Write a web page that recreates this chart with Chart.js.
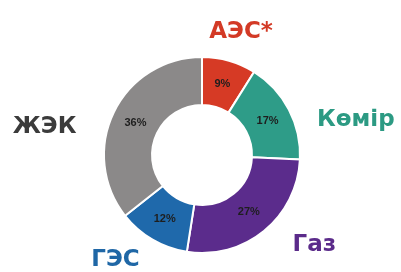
<!DOCTYPE html>
<html>
<head>
    <meta charset="utf-8" />
    <title>Energy mix</title>
    <script src="https://cdn.jsdelivr.net/npm/chart.js"></script>
    <style>
        html, body { margin: 0; padding: 0; background: #fff; }
        #wrap { width: 401px; height: 272px; }
    </style>
</head>
<body>
    <div id="wrap">
        <canvas id="mixChart" width="401" height="272"></canvas>
    </div>

    <script>
        // data
        const labels = ['АЭС*', 'Көмір', 'Газ', 'ГЭС', 'ЖЭК'];
        const shares = [9, 17, 27, 12, 36];

        const sliceColors = ['#d63a25', '#2e9c88', '#5b2c8c', '#1f69ab', '#8b8989'];
        const textColors = ['#d33a26', '#2c9a83', '#5b2b8a', '#1f67a6', '#3b3b3b'];
        // shift of each outer label from the point just outside its slice
        const labelNudge = [[7, -11], [51, 19], [39, 0], [-28, 5], [-53, 23]];

        const labelPlugin = {
            id: 'sliceLabels',
            afterDatasetsDraw(chart) {
                const ctx = chart.ctx;
                const meta = chart.getDatasetMeta(0);
                ctx.save();
                ctx.textAlign = 'center';
                ctx.textBaseline = 'middle';
                meta.data.forEach((arc, i) => {
                    // percent inside the ring
                    const p = arc.tooltipPosition();
                    ctx.font = 'bold 11px "Liberation Sans", Arial, sans-serif';
                    ctx.fillStyle = '#1e1e1e';
                    ctx.fillText(shares[i] + '%', p.x, p.y);

                    // name outside the ring
                    const mid = (arc.startAngle + arc.endAngle) / 2;
                    const r = arc.outerRadius + 18;
                    const x = arc.x + Math.cos(mid) * r + labelNudge[i][0];
                    const y = arc.y + Math.sin(mid) * r + labelNudge[i][1];
                    ctx.font = 'bold 23px "DejaVu Sans", sans-serif';
                    ctx.fillStyle = textColors[i];
                    ctx.fillText(labels[i], x, y);
                });
                ctx.restore();
            }
        };

        const ctx = document.getElementById('mixChart').getContext('2d');
        const mixChart = new Chart(ctx, {
            type: 'doughnut',
            data: {
                labels: labels,
                datasets: [{
                    data: shares,
                    backgroundColor: sliceColors,
                    borderColor: '#ffffff',
                    borderWidth: 2
                }]
            },
            options: {
                responsive: false,
                animation: false,
                cutout: '51%',
                layout: {
                    padding: { top: 56, bottom: 18, left: 3, right: 0 }
                },
                plugins: {
                    legend: { display: false },
                    tooltip: { enabled: false }
                }
            },
            plugins: [labelPlugin]
        });
    </script>
</body>
</html>
